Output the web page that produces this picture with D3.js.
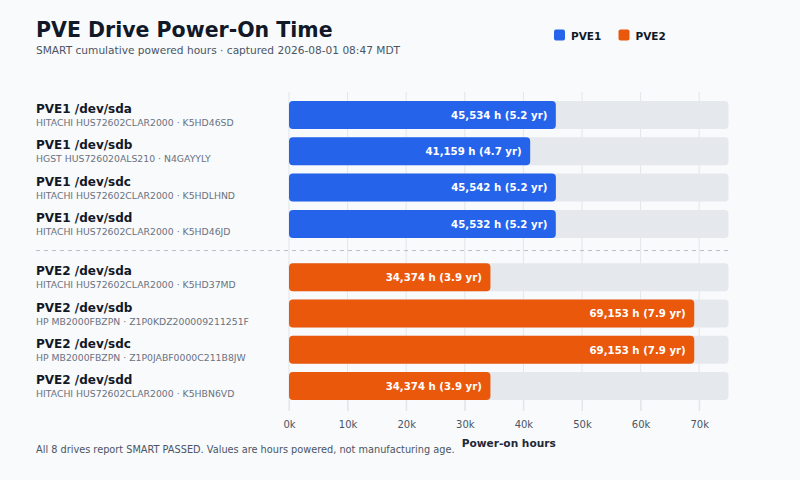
<!DOCTYPE html>
<html><head><meta charset="utf-8">
<script src="https://cdn.jsdelivr.net/npm/d3@7"></script>
<style>
html,body{margin:0;padding:0;background:#f8fafc;}
svg{display:block;font-family:"DejaVu Sans",sans-serif;}
</style></head>
<body><svg id="c" width="800" height="480"></svg>
<script>
const hosts = ["PVE1","PVE1","PVE1","PVE1","PVE2","PVE2","PVE2","PVE2"];
const devices = ["/dev/sda","/dev/sdb","/dev/sdc","/dev/sdd","/dev/sda","/dev/sdb","/dev/sdc","/dev/sdd"];
const models = ["HITACHI HUS72602CLAR2000","HGST HUS726020ALS210","HITACHI HUS72602CLAR2000","HITACHI HUS72602CLAR2000",
  "HITACHI HUS72602CLAR2000","HP MB2000FBZPN","HP MB2000FBZPN","HITACHI HUS72602CLAR2000"];
const serials = ["K5HD46SD","N4GAYYLY","K5HDLHND","K5HD46JD","K5HD37MD","Z1P0KDZ200009211251F","Z1P0JABF0000C211B8JW","K5HBN6VD"];
const hours = [45534,41159,45542,45532,34374,69153,69153,34374];
const years = ["5.2","4.7","5.2","5.2","3.9","7.9","7.9","3.9"];
const seriesNames = ["PVE1","PVE2"];
const seriesColors = ["#2563eb","#ea580c"];
const xTicks = [0,10000,20000,30000,40000,50000,60000,70000];

const svg = d3.select("#c");
const x = d3.scaleLinear().domain([0,75000]).range([289,728.5]);
const color = d3.scaleOrdinal().domain(seriesNames).range(seriesColors);
const rows = hours.map((h,i)=>({i,host:hosts[i],dev:devices[i],model:models[i],serial:serials[i],h,yr:years[i]}));
const y = d3.scaleBand().domain(d3.range(8)).range([101,383.1]).paddingInner(0.229).paddingOuter(0);
const groupGap = 17;
const yPos = d => y(d.i) + (d.host==="PVE2"?groupGap:0) ;
const bh = y.bandwidth();

// title
svg.append("text").attr("x",36).attr("y",37).attr("font-size",20.5).attr("font-weight","bold").attr("fill","#111827").text("PVE Drive Power-On Time");
svg.append("text").attr("x",36).attr("y",54).attr("font-size",10.6).attr("fill","#4b5563").text("SMART cumulative powered hours · captured 2026-08-01 08:47 MDT");

// legend
const lg = svg.append("g");
const lx = [554,618.5];
seriesNames.forEach((s,k)=>{
  lg.append("rect").attr("x",lx[k]).attr("y",29.5).attr("width",11).attr("height",11).attr("rx",2).attr("fill",color(s));
  lg.append("text").attr("x",lx[k]+17).attr("y",39.5).attr("font-size",10.5).attr("font-weight","bold").attr("fill","#111827").text(s);
});

// grid
const gridTop = 92, gridBot = 411;
svg.append("g").selectAll("line").data(xTicks).join("line")
  .attr("x1",d=>x(d)).attr("x2",d=>x(d)).attr("y1",gridTop).attr("y2",gridBot)
  .attr("stroke","#e2e6ea").attr("stroke-width",1);

// separator
const sepY = (yPos(rows[3])+bh + yPos(rows[4]))/2;
svg.append("line").attr("x1",36).attr("x2",728).attr("y1",sepY).attr("y2",sepY)
  .attr("stroke","#b8bec7").attr("stroke-dasharray","4,4").attr("stroke-width",1);

// tracks
svg.append("g").selectAll("rect").data(rows).join("rect")
  .attr("x",x(0)).attr("y",d=>yPos(d)).attr("width",x(75000)-x(0)).attr("height",bh).attr("rx",4).attr("fill","#e5e8ed");
// bars
svg.append("g").selectAll("rect").data(rows).join("rect")
  .attr("x",x(0)).attr("y",d=>yPos(d)).attr("width",d=>x(d.h)-x(0)).attr("height",bh).attr("rx",4).attr("fill",d=>color(d.host));
// value labels
svg.append("g").selectAll("text").data(rows).join("text")
  .attr("x",d=>x(d.h)-8.5).attr("y",d=>yPos(d)+bh/2+3.8).attr("text-anchor","end")
  .attr("font-size",10.2).attr("font-weight","bold").attr("fill","#ffffff")
  .text(d=>d3.format(",")(d.h)+" h ("+d.yr+" yr)");

// row labels
const lab = svg.append("g").selectAll("g").data(rows).join("g");
lab.append("text").attr("x",36).attr("y",d=>yPos(d)+12).attr("font-size",12).attr("font-weight","bold").attr("fill","#111827").text(d=>d.host+" "+d.dev);
lab.append("text").attr("x",36).attr("y",d=>yPos(d)+25).attr("font-size",9.3).attr("fill","#6b7280").text(d=>d.model+" · "+d.serial);

// axis
const ax = svg.append("g").attr("transform","translate(0,"+(gridBot-11)+")")
  .call(d3.axisBottom(x).tickValues(xTicks).tickFormat(d=>(d/1000)+"k").tickSize(11).tickPadding(10));
ax.select(".domain").remove();
ax.selectAll(".tick line").attr("stroke","#e2e6ea");
ax.selectAll(".tick text").attr("font-size",10).attr("fill","#4b5563").attr("font-family","DejaVu Sans");

svg.append("text").attr("x",(x(0)+x(75000))/2).attr("y",447).attr("text-anchor","middle").attr("font-size",10.6).attr("font-weight","bold").attr("fill","#1f2937").text("Power-on hours");
svg.append("text").attr("x",36).attr("y",453).attr("font-size",9.75).attr("fill","#4b5563").text("All 8 drives report SMART PASSED. Values are hours powered, not manufacturing age.");
</script></body></html>
